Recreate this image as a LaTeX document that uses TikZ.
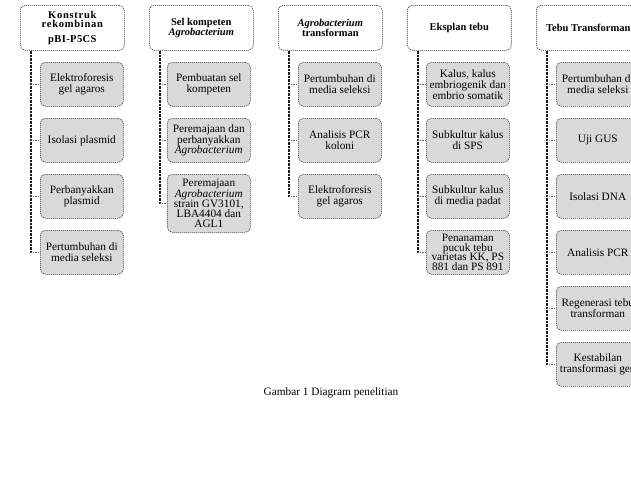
\documentclass[tikz,border=0pt]{standalone}
\usepackage{fontspec}
\setmainfont{Liberation Serif}
\usetikzlibrary{calc}
\tikzset{
  hdr/.style={draw=black!75, dash pattern=on 1.2pt off 0.8pt, line width=0.6pt, rounded corners=5pt, fill=white,
    minimum width=104pt, minimum height=45pt, anchor=north west, align=center, inner sep=0pt,
    font=\fontsize{10.5}{10.5}\selectfont\bfseries},
  sub/.style={draw=black!75, dash pattern=on 1.2pt off 0.8pt, line width=0.6pt, rounded corners=5pt, fill=black!15,
    minimum width=83pt, minimum height=44pt, anchor=north west, align=center, inner sep=0pt,
    font=\fontsize{11.3}{10.8}\selectfont},
  spine/.style={draw=black!90, line width=1.2pt, dash pattern=on 1pt off 0.4pt},
  tick/.style={draw=black!60, line width=0.5pt, dash pattern=on 1pt off 0.8pt},
  captext/.style={font=\fontsize{11.3}{12}\selectfont, inner sep=0pt}
}
\begin{document}
\begin{tikzpicture}[x=1pt,y=-1pt]
\useasboundingbox (0,0) rectangle (631,483);
\clip (0,0) rectangle (631,483);
\fill[white] (0,0) rectangle (631,483);

% headers
\node[hdr] (h1) at (20,5) {{\addfontfeature{LetterSpace=7}Konstruk}\\[-1.5pt]{\addfontfeature{LetterSpace=7}rekombinan}\\[4.5pt]{\addfontfeature{LetterSpace=4}pBI-P5CS}};
\node[hdr] (h2) at (149,5) {Sel kompeten\\\textit{Agrobacterium}};
\node[hdr] (h3) at (278,5) {\textit{Agrobacterium}\\transforman};
\node[hdr] (h4) at (407,5) {Eksplan tebu};
\node[hdr] (h5) at (536,5) {Tebu Transforman};

% column 1
\node[sub] (c11) at (40,62)  {Elektroforesis\\gel agaros};
\node[sub] (c12) at (40,118) {Isolasi plasmid};
\node[sub] (c13) at (40,174) {Perbanyakkan\\plasmid};
\node[sub] (c14) at (40,230) {Pertumbuhan di\\media seleksi};

% column 2
\node[sub] (c21) at (167,62)  {Pembuatan sel\\kompeten};
\node[sub] (c22) at (167,118) {Peremajaan dan\\perbanyakkan\\\textit{Agrobacterium}};
\node[sub, minimum height=58pt, font=\fontsize{11.3}{10}\selectfont] (c23) at (167,174) {Peremajaan\\\textit{Agrobacterium}\\strain GV3101,\\LBA4404 dan\\AGL1};

% column 3
\node[sub] (c31) at (298,62)  {Pertumbuhan di\\media seleksi};
\node[sub] (c32) at (298,118) {Analisis PCR\\koloni};
\node[sub] (c33) at (298,174) {Elektroforesis\\gel agaros};

% column 4
\node[sub, font=\fontsize{11.3}{11}\selectfont] (c41) at (426,62)  {Kalus, kalus\\embriogenik dan\\embrio somatik};
\node[sub] (c42) at (426,118) {Subkultur kalus\\di SPS};
\node[sub] (c43) at (426,174) {Subkultur kalus\\di media padat};
\node[sub, font=\fontsize{11.3}{9.9}\selectfont] (c44) at (426,230) {Penanaman\\pucuk tebu\\varietas KK, PS\\881 dan PS 891};

% column 5
\node[sub] (c51) at (556,62)  {Pertumbuhan di\\media seleksi};
\node[sub] (c52) at (556,118) {Uji GUS};
\node[sub] (c53) at (556,174) {Isolasi DNA};
\node[sub] (c54) at (556,230) {Analisis PCR};
\node[sub] (c55) at (556,286) {Regenerasi tebu\\transforman};
\node[sub] (c56) at (556,342) {Kestabilan\\transformasi gen};

% spines
\coordinate (s1) at ($(h1.south west)+(11,0)$);
\coordinate (s2) at ($(h2.south west)+(11,0)$);
\coordinate (s3) at ($(h3.south west)+(11,0)$);
\coordinate (s4) at ($(h4.south west)+(11,0)$);
\coordinate (s5) at ($(h5.south west)+(11,0)$);

\draw[spine] (s1) -- (s1 |- c14.west);
\draw[spine] (s2) -- (s2 |- c23.west);
\draw[spine] (s3) -- (s3 |- c33.west);
\draw[spine] (s4) -- (s4 |- c44.west);
\draw[spine] (s5) -- (s5 |- c56.west);

\foreach \c in {c11,c12,c13,c14} \draw[tick] (s1 |- \c.west) -- (\c.west);
\foreach \c in {c21,c22,c23} \draw[tick] (s2 |- \c.west) -- (\c.west);
\foreach \c in {c31,c32,c33} \draw[tick] (s3 |- \c.west) -- (\c.west);
\foreach \c in {c41,c42,c43,c44} \draw[tick] (s4 |- \c.west) -- (\c.west);
\foreach \c in {c51,c52,c53,c54,c55,c56} \draw[tick] (s5 |- \c.west) -- (\c.west);

\node[captext] (caption) at (331,393) {Gambar 1 Diagram penelitian};
\end{tikzpicture}
\end{document}
